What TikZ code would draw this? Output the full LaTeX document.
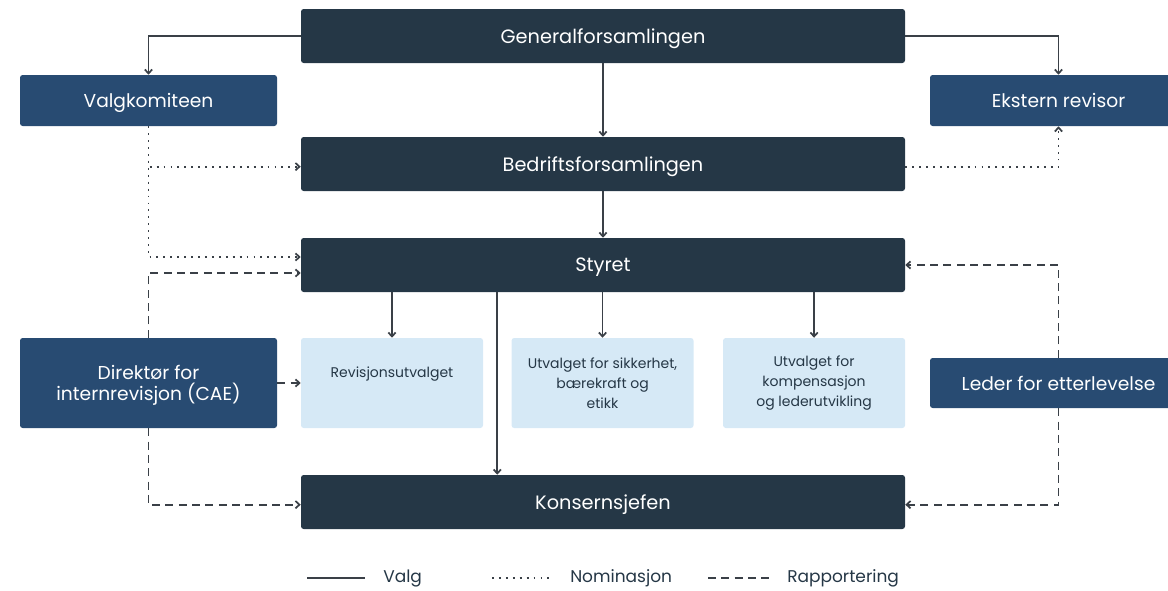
\documentclass[tikz,border=0pt]{standalone}
\usepackage{fontspec}
\setmainfont{Poppins}
\usepackage{xcolor}
\usetikzlibrary{arrows.meta,positioning}
\definecolor{navy}{HTML}{253746}
\definecolor{steel}{HTML}{284B72}
\definecolor{pale}{HTML}{D6E9F6}
\definecolor{ink}{HTML}{3A4047}

\begin{document}
\begin{tikzpicture}[
  x=0.75pt,y=-0.75pt,
  box/.style={rectangle,rounded corners=2pt,align=center,text=white,inner sep=0pt,text depth=0pt,font=\fontsize{14}{15.75}\selectfont},
  mainbox/.style={box,fill=navy,minimum width=453pt,minimum height=40.5pt,font=\fontsize{14.5}{16}\selectfont},
  sidebox/.style={box,fill=steel,minimum width=192.75pt},
  cmtbox/.style={rectangle,rounded corners=2pt,fill=pale,align=center,text=navy,inner sep=0pt,minimum width=136.5pt,minimum height=67.5pt,font=\fontsize{10.5}{15}\selectfont},
  arr/.style={-{Straight Barb[length=3pt,width=5.5pt]},ink,line width=1.3pt},
  valg/.style={arr},
  nom/.style={arr,dash pattern=on 1.4pt off 3.8pt},
  rap/.style={arr,dash pattern=on 6pt off 4pt},
  legtext/.style={text=navy,anchor=west,inner sep=0pt,font=\fontsize{12.75}{14}\selectfont}
]
\useasboundingbox (0,0) rectangle (1168,590);

\node[mainbox] (gen) at (603,36) {Generalforsamlingen};
\node[mainbox] (bedr) at (603,164) {Bedriftsforsamlingen};
\node[mainbox] (styret) at (603,265) {Styret};
\node[mainbox] (kons) at (603,502) {Konsernsjefen};

\node[sidebox,minimum height=38.25pt] (valgk) at (148.5,100.5) {Valgkomiteen};
\node[sidebox,minimum height=38.25pt] (ekst) at (1058.5,100.5) {Ekstern revisor};
\node[sidebox,minimum height=67.5pt] (dir) at (148.5,383) {Direktør for\\internrevisjon (CAE)};
\node[sidebox,minimum height=37.5pt] (leder) at (1058.5,383) {Leder for etterlevelse};

\node[cmtbox] (rev) at (392,383) {\raisebox{4pt}[0pt][0pt]{Revisjonsutvalget}};
\node[cmtbox,right=21pt of rev] (sik) {Utvalget for sikkerhet,\\bærekraft og\\etikk};
\node[cmtbox,right=21.75pt of sik] (komp) {Utvalget for\\kompensasjon\\og lederutvikling};

\path (rev.east) -- coordinate[midway] (gap) (sik.west);

\draw[valg] (gen.west) -| (valgk.north);
\draw[valg] (gen.east) -| (ekst.north);
\draw[valg] (gen) -- (bedr);
\draw[valg] (bedr) -- (styret);
\draw[valg] (rev.north |- styret.south) -- (rev.north);
\draw[valg] (sik.north |- styret.south) -- (sik.north);
\draw[valg] (komp.north |- styret.south) -- (komp.north);
\draw[valg] (gap |- styret.south) -- (gap |- kons.north);

\draw[nom] (valgk.south) |- ([yshift=-2pt]bedr.west);
\draw[nom] (valgk.south) |- ([yshift=6pt]styret.west);
\draw[nom] ([yshift=-2pt]bedr.east) -| (ekst.south);

\draw[rap] (dir.north) |- ([yshift=-6pt]styret.west);
\draw[rap] (dir.east) -- (rev.west);
\draw[rap] (dir.south) |- ([yshift=-2pt]kons.west);
\draw[rap] (leder.north) |- (styret.east);
\draw[rap] (leder.south) |- ([yshift=-2pt]kons.east);

\coordinate (l1) at (307,578);
\node[legtext] (lvalg) at (383,578) {Valg};
\draw[ink,line width=1.3pt] (l1) -- ([xshift=-13.5pt]lvalg.west);
\coordinate (l2) at (492,578);
\node[legtext] (lnom) at (570,578) {Nominasjon};
\draw[ink,line width=1.3pt,dash pattern=on 1.4pt off 3.8pt] (l2) -- ([xshift=-13.5pt]lnom.west);
\coordinate (l3) at (708,578);
\node[legtext] (lrap) at (787,578) {Rapportering};
\draw[ink,line width=1.3pt,dash pattern=on 6pt off 4pt] (l3) -- ([xshift=-12.75pt]lrap.west);
\end{tikzpicture}
\end{document}
